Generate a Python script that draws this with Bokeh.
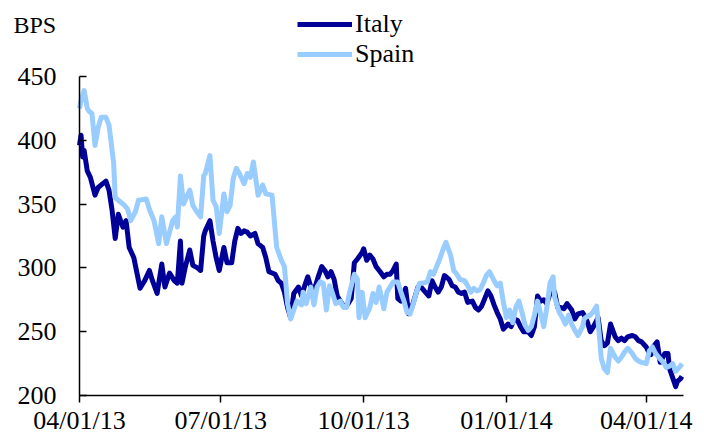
import pandas as pd
from bokeh.plotting import figure
from bokeh.models import (Range1d, FixedTicker, DatetimeTickFormatter, Legend,
                          LegendItem, Label)
from bokeh.embed import file_html
from bokeh.resources import INLINE

# ---------------- data ----------------
start_date = "2013-04-01"
end_date = "2014-04-25"

# days since 2013-04-01
italy_day_offsets = [
    0, 1, 2, 3, 5, 7, 10, 12, 15, 17,
    19, 21, 23, 25, 28, 30, 32, 35, 37, 39,
    42, 45, 47, 50, 53, 55, 58, 61, 63, 65,
    66, 68, 71, 73, 76, 78, 80, 81, 84, 86,
    88, 90, 93, 95, 98, 100, 102, 104, 106, 108,
    110, 113, 115, 118, 120, 122, 126, 128, 130, 132,
    134, 136, 138, 141, 143, 145, 147, 149, 151, 154,
    156, 158, 160, 162, 164, 166, 169, 171, 173, 175,
    177, 179, 182, 183, 185, 187, 189, 191, 193, 196,
    198, 200, 202, 204, 205, 207, 210, 212, 214, 216,
    218, 220, 222, 225, 227, 229, 231, 233, 235, 238,
    240, 242, 244, 246, 248, 250, 253, 255, 257, 259,
    260, 263, 265, 267, 269, 271, 273, 276, 278, 280,
    282, 284, 286, 289, 291, 293, 295, 297, 299, 301,
    304, 306, 308, 310, 312, 314, 317, 319, 321, 324,
    325, 327, 329, 331, 334, 336, 338, 340, 342, 345,
    347, 349, 351, 353, 356, 358, 360, 362, 365, 367,
    368, 370, 372, 374, 377, 379, 380, 382, 384, 385,
    387, 388,
]
italy_bps = [
    396, 404, 387, 392, 376, 371, 357, 363, 366, 368,
    361, 345, 323, 342, 332, 337, 316, 308, 296, 284,
    290, 298, 290, 280, 303, 285, 296, 290, 288, 321,
    288, 300, 314, 302, 300, 298, 325, 329, 337, 321,
    308, 298, 316, 304, 304, 321, 331, 327, 329, 328,
    325, 327, 319, 316, 308, 297, 295, 290, 288, 281,
    269, 261, 280, 285, 278, 286, 293, 285, 282, 294,
    301, 298, 293, 297, 291, 278, 272, 269, 272, 276,
    304, 307, 312, 315, 306, 310, 307, 301, 298, 293,
    295, 295, 298, 303, 276, 274, 284, 264, 269, 277,
    285, 285, 282, 278, 290, 285, 281, 285, 294, 291,
    286, 285, 281, 280, 281, 273, 274, 269, 267, 270,
    273, 282, 278, 271, 265, 260, 252, 256, 254, 260,
    259, 254, 250, 250, 247, 254, 278, 274, 275, 272,
    284, 281, 269, 269, 268, 272, 267, 260, 264, 265,
    263, 258, 250, 254, 261, 243, 239, 241, 256, 246,
    243, 245, 243, 246, 247, 246, 243, 242, 238, 233,
    232, 239, 242, 226, 233, 233, 221, 214, 207, 211,
    213, 215,
]

spain_day_offsets = [
    0, 1, 3, 5, 6, 8, 10, 12, 14, 17,
    19, 22, 23, 25, 29, 31, 33, 36, 38, 43,
    45, 48, 51, 53, 56, 60, 62, 63, 65, 67,
    71, 73, 75, 78, 80, 81, 84, 86, 88, 90,
    93, 95, 97, 99, 101, 103, 106, 108, 110, 112,
    115, 118, 120, 124, 127, 130, 132, 134, 136, 138,
    140, 143, 144, 146, 149, 151, 153, 155, 157, 159,
    161, 163, 165, 168, 170, 172, 174, 177, 179, 180,
    182, 184, 187, 189, 191, 193, 196, 198, 200, 202,
    205, 207, 209, 211, 213, 215, 217, 219, 221, 224,
    226, 228, 230, 232, 234, 236, 239, 241, 243, 245,
    248, 250, 252, 254, 256, 258, 260, 262, 264, 267,
    269, 271, 273, 275, 277, 279, 281, 283, 285, 287,
    289, 291, 293, 295, 297, 299, 301, 303, 305, 306,
    309, 311, 313, 315, 317, 319, 321, 324, 325, 327,
    329, 331, 333, 335, 336, 338, 340, 342, 345, 347,
    349, 351, 353, 356, 358, 360, 362, 365, 367, 369,
    371, 373, 376, 378, 380, 382, 384, 387, 388,
]
spain_bps = [
    425, 431, 439, 425, 423, 421, 396, 410, 418, 418,
    412, 382, 355, 353, 349, 346, 337, 344, 353, 354,
    346, 337, 319, 340, 319, 337, 340, 332, 372, 350,
    361, 349, 345, 340, 372, 374, 388, 353, 348, 327,
    358, 344, 349, 370, 378, 374, 366, 374, 371, 383,
    357, 365, 358, 357, 316, 306, 301, 272, 260, 267,
    274, 271, 281, 272, 285, 271, 285, 289, 288, 267,
    286, 280, 272, 274, 269, 269, 281, 295, 291, 261,
    281, 261, 269, 280, 273, 285, 268, 281, 285, 289,
    289, 281, 274, 265, 264, 272, 281, 288, 288, 289,
    297, 295, 301, 307, 314, 320, 310, 298, 295, 291,
    290, 286, 281, 284, 282, 283, 288, 294, 297, 290,
    286, 288, 273, 261, 267, 257, 269, 274, 265, 255,
    251, 254, 263, 274, 264, 254, 269, 288, 293, 277,
    265, 261, 256, 263, 256, 251, 247, 254, 260, 262,
    263, 266, 270, 245, 229, 221, 218, 237, 230, 227,
    230, 234, 237, 233, 229, 227, 226, 225, 235, 238,
    233, 230, 226, 222, 223, 225, 219, 223, 225,
]

x_tick_dates = ["2013-04-01", "2013-07-01", "2013-10-01", "2014-01-01", "2014-04-01"]
y_ticks = [200, 250, 300, 350, 400, 450]
series_names = ["Italy", "Spain"]
series_colors = ["#000099", "#99ccff"]
y_unit_label = "BPS"

assert len(italy_day_offsets) == len(italy_bps)
assert len(spain_day_offsets) == len(spain_bps)

start = pd.Timestamp(start_date)
end = pd.Timestamp(end_date)
italy_dates = start + pd.to_timedelta(italy_day_offsets, unit="D")
spain_dates = start + pd.to_timedelta(spain_day_offsets, unit="D")

FONT = "Liberation Serif"

# ---- layout geometry (pixels inside the figure, which sits at the page origin) ----
W, H = 704, 439
AX_LEFT, AX_RIGHT = 79, 683      # where the x axis line runs
AX_TOP, AX_BOTTOM = 76, 395      # rows of y=450 and y=200

# the frame covers the whole canvas; axes are pinned with fixed_location/bounds
span_ms = (end - start).value / 10**6
ms_per_px = span_ms / (AX_RIGHT - AX_LEFT)
x0 = start.value / 10**6 - AX_LEFT * ms_per_px
x1 = end.value / 10**6 + (W - AX_RIGHT) * ms_per_px
val_per_px = (y_ticks[-1] - y_ticks[0]) / (AX_BOTTOM - AX_TOP)
y0 = y_ticks[0] - (H - AX_BOTTOM) * val_per_px
y1 = y_ticks[-1] + AX_TOP * val_per_px

p = figure(width=W, height=H, x_axis_type="datetime",
           output_backend="svg", toolbar_location=None,
           x_range=Range1d(x0, x1), y_range=Range1d(y0, y1),
           min_border=0)
p.outline_line_color = None
p.xgrid.visible = False
p.ygrid.visible = False
p.background_fill_color = "white"
p.border_fill_color = "white"

r_it = p.line(italy_dates, italy_bps, line_color=series_colors[0], line_width=5,
              line_join="round")
r_sp = p.line(spain_dates, spain_bps, line_color=series_colors[1], line_width=5,
              line_join="round")

# y axis
ya = p.yaxis[0]
ya.fixed_location = start.value / 10**6
ya.bounds = (y_ticks[0], y_ticks[-1])
ya.ticker = FixedTicker(ticks=y_ticks)
ya.major_tick_in = 7
ya.major_tick_out = 0
ya.minor_tick_line_color = None
ya.axis_line_width = 1.5
ya.major_tick_line_width = 1.5
ya.axis_line_color = "black"
ya.major_tick_line_color = "black"
ya.major_label_standoff = 23
ya.major_label_text_font = FONT
ya.major_label_text_font_size = "26px"
ya.major_label_text_color = "black"

# x axis
xa = p.xaxis[0]
xa.fixed_location = y_ticks[0]
xa.bounds = (start.value / 10**6, end.value / 10**6)
tick_ms = [pd.Timestamp(d).value // 10**6 for d in x_tick_dates]
xa.ticker = FixedTicker(ticks=tick_ms)
xa.formatter = DatetimeTickFormatter(days="%m/%d/%y", months="%m/%d/%y",
                                     years="%m/%d/%y", hours="%m/%d/%y")
xa.major_tick_in = 0
xa.major_tick_out = 7
xa.minor_tick_line_color = None
xa.axis_line_width = 1.5
xa.major_tick_line_width = 1.5
xa.axis_line_color = "black"
xa.major_tick_line_color = "black"
xa.major_label_standoff = 3
xa.major_label_text_font = FONT
xa.major_label_text_font_size = "26px"
xa.major_label_text_color = "black"

legend = Legend(items=[LegendItem(label=series_names[0], renderers=[r_it]),
                       LegendItem(label=series_names[1], renderers=[r_sp])],
                location=(297, H - 69), orientation="vertical",
                glyph_width=55, glyph_height=30, label_height=30,
                label_standoff=3, padding=0, margin=0, spacing=0,
                border_line_color=None, background_fill_alpha=0,
                label_text_font=FONT, label_text_font_size="26px",
                label_text_color="black")
p.add_layout(legend)

p.add_layout(Label(x=13, y=H - 24, x_units="screen", y_units="screen",
                   text=y_unit_label, text_font=FONT, text_font_size="24px",
                   text_baseline="middle", text_color="black"))

open("out.html", "w").write(file_html(p, INLINE))
